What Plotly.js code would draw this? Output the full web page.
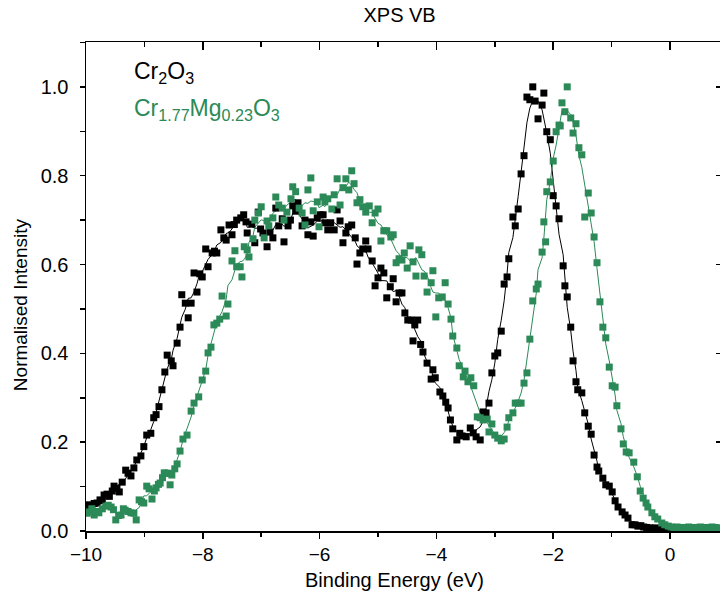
<!DOCTYPE html>
<html>
<head>
<meta charset="utf-8">
<script src="https://cdn.plot.ly/plotly-3.0.1.min.js"></script>
<style>html,body{margin:0;padding:0;background:#fff;}#chart{width:720px;height:601px;}</style>
</head>
<body>
<div id="chart"></div>
<script>
// Cr2O3 (black)
const crX = [-9.98,-9.95,-9.90,-9.86,-9.81,-9.76,-9.72,-9.69,-9.64,-9.60,-9.55,-9.52,-9.47,-9.43,-9.38,-9.32,-9.28,-9.23,-9.18,-9.13,-9.06,-9.01,-8.96,-8.89,-8.84,-8.80,-8.75,-8.70,-8.65,-8.61,-8.54,-8.51,-8.44,-8.39,-8.36,-8.30,-8.25,-8.20,-8.15,-8.10,-8.05,-8.01,-7.95,-7.91,-7.84,-7.80,-7.76,-7.69,-7.64,-7.60,-7.55,-7.50,-7.46,-7.42,-7.35,-7.30,-7.26,-7.24,-7.16,-7.11,-7.05,-7.01,-6.97,-6.90,-6.85,-6.80,-6.75,-6.70,-6.64,-6.61,-6.54,-6.50,-6.46,-6.41,-6.37,-6.30,-6.25,-6.20,-6.15,-6.11,-6.04,-5.99,-5.94,-5.91,-5.86,-5.81,-5.75,-5.70,-5.65,-5.60,-5.55,-5.51,-5.45,-5.39,-5.36,-5.31,-5.26,-5.21,-5.17,-5.10,-5.05,-5.00,-4.95,-4.90,-4.85,-4.79,-4.74,-4.69,-4.64,-4.59,-4.54,-4.49,-4.43,-4.40,-4.37,-4.32,-4.27,-4.23,-4.16,-4.09,-4.06,-4.02,-3.94,-3.89,-3.84,-3.80,-3.76,-3.72,-3.65,-3.60,-3.56,-3.49,-3.42,-3.37,-3.32,-3.25,-3.20,-3.15,-3.10,-3.05,-3.00,-2.95,-2.89,-2.84,-2.79,-2.76,-2.69,-2.65,-2.60,-2.55,-2.50,-2.45,-2.40,-2.35,-2.31,-2.26,-2.19,-2.16,-2.11,-2.05,-2.00,-1.95,-1.90,-1.83,-1.80,-1.76,-1.70,-1.66,-1.61,-1.58,-1.51,-1.46,-1.40,-1.35,-1.30,-1.25,-1.22,-1.15,-1.10,-1.04,-0.99,-0.94,-0.89,-0.82,-0.77,-0.72,-0.65,-0.60,-0.55,-0.50,-0.45,-0.40,-0.35,-0.30,-0.25,-0.20,-0.15,-0.10,-0.05,0.00,0.05,0.10,0.15,0.20,0.25,0.30,0.35,0.40,0.45,0.50,0.55,0.60,0.65,0.70,0.75,0.80,0.85];
const crY = [0.050,0.059,0.055,0.062,0.063,0.070,0.068,0.081,0.083,0.078,0.090,0.101,0.096,0.088,0.110,0.137,0.130,0.124,0.142,0.160,0.169,0.190,0.216,0.220,0.255,0.262,0.280,0.318,0.358,0.396,0.383,0.372,0.423,0.459,0.532,0.513,0.480,0.513,0.581,0.538,0.579,0.572,0.635,0.595,0.626,0.630,0.626,0.678,0.660,0.655,0.689,0.667,0.690,0.700,0.705,0.712,0.696,0.671,0.691,0.649,0.718,0.680,0.671,0.640,0.673,0.660,0.727,0.687,0.703,0.651,0.687,0.700,0.732,0.720,0.739,0.687,0.700,0.667,0.696,0.664,0.705,0.712,0.712,0.694,0.678,0.694,0.678,0.723,0.698,0.649,0.671,0.685,0.689,0.660,0.601,0.626,0.635,0.653,0.635,0.608,0.552,0.570,0.592,0.581,0.525,0.550,0.568,0.516,0.536,0.536,0.491,0.475,0.475,0.428,0.464,0.475,0.420,0.403,0.378,0.342,0.363,0.345,0.313,0.304,0.290,0.277,0.250,0.230,0.205,0.220,0.214,0.212,0.232,0.221,0.212,0.205,0.268,0.266,0.288,0.356,0.394,0.401,0.450,0.556,0.572,0.613,0.707,0.687,0.725,0.804,0.845,0.977,0.971,1.000,0.968,0.928,0.959,0.986,0.899,0.881,0.755,0.732,0.703,0.597,0.552,0.527,0.459,0.383,0.336,0.318,0.311,0.266,0.236,0.218,0.171,0.144,0.135,0.119,0.104,0.101,0.088,0.068,0.054,0.043,0.036,0.029,0.014,0.014,0.011,0.012,0.009,0.008,0.007,0.006,0.007,0.005,0.004,0.006,0.005,0.004,0.005,0.006,0.004,0.005,0.006,0.005,0.004,0.007,0.006,0.005,0.004,0.005,0.007,0.005,0.004,0.005,0.006];

// Cr1.77Mg0.23O3 (green)
const mgX = [-9.98,-9.95,-9.90,-9.86,-9.82,-9.78,-9.72,-9.66,-9.62,-9.57,-9.53,-9.49,-9.44,-9.40,-9.36,-9.33,-9.28,-9.23,-9.18,-9.14,-9.09,-9.05,-9.01,-8.96,-8.92,-8.87,-8.83,-8.80,-8.76,-8.73,-8.69,-8.66,-8.62,-8.59,-8.56,-8.53,-8.48,-8.44,-8.39,-8.34,-8.27,-8.20,-8.15,-8.07,-8.01,-7.95,-7.91,-7.86,-7.81,-7.76,-7.71,-7.67,-7.60,-7.57,-7.50,-7.45,-7.42,-7.36,-7.33,-7.29,-7.24,-7.21,-7.14,-7.11,-7.05,-7.00,-6.95,-6.90,-6.87,-6.80,-6.75,-6.70,-6.64,-6.61,-6.56,-6.49,-6.46,-6.41,-6.35,-6.30,-6.25,-6.20,-6.15,-6.11,-6.04,-6.01,-5.94,-5.91,-5.86,-5.79,-5.75,-5.70,-5.65,-5.60,-5.55,-5.50,-5.45,-5.41,-5.36,-5.31,-5.26,-5.21,-5.15,-5.10,-5.05,-5.00,-4.95,-4.90,-4.85,-4.78,-4.74,-4.69,-4.64,-4.59,-4.55,-4.50,-4.45,-4.40,-4.35,-4.30,-4.25,-4.21,-4.16,-4.09,-4.06,-4.01,-3.96,-3.90,-3.85,-3.80,-3.75,-3.72,-3.65,-3.61,-3.54,-3.51,-3.46,-3.41,-3.36,-3.30,-3.25,-3.20,-3.13,-3.10,-3.05,-3.00,-2.95,-2.89,-2.84,-2.79,-2.76,-2.69,-2.65,-2.60,-2.55,-2.50,-2.45,-2.40,-2.35,-2.29,-2.26,-2.19,-2.16,-2.13,-2.11,-2.05,-2.00,-1.95,-1.90,-1.88,-1.85,-1.80,-1.76,-1.70,-1.66,-1.61,-1.56,-1.51,-1.46,-1.40,-1.35,-1.30,-1.25,-1.20,-1.15,-1.10,-1.04,-0.99,-0.94,-0.91,-0.84,-0.80,-0.75,-0.70,-0.62,-0.56,-0.51,-0.46,-0.41,-0.38,-0.31,-0.26,-0.21,-0.14,-0.09,-0.03,0.02,0.07,0.12,0.17,0.22,0.27,0.32,0.37,0.42,0.47,0.52,0.57,0.62,0.67,0.72,0.77,0.82];
const mgY = [0.040,0.043,0.050,0.036,0.044,0.041,0.050,0.056,0.058,0.054,0.048,0.025,0.035,0.036,0.050,0.047,0.044,0.041,0.040,0.025,0.070,0.066,0.063,0.101,0.095,0.072,0.090,0.097,0.105,0.108,0.120,0.131,0.130,0.130,0.104,0.126,0.140,0.151,0.180,0.207,0.216,0.270,0.288,0.302,0.340,0.360,0.401,0.414,0.464,0.468,0.477,0.529,0.484,0.511,0.608,0.631,0.595,0.595,0.572,0.640,0.633,0.617,0.658,0.700,0.716,0.730,0.660,0.698,0.687,0.705,0.752,0.734,0.727,0.700,0.718,0.748,0.775,0.764,0.727,0.716,0.689,0.768,0.795,0.721,0.741,0.685,0.752,0.741,0.748,0.725,0.757,0.793,0.734,0.773,0.793,0.768,0.811,0.782,0.739,0.746,0.730,0.718,0.732,0.694,0.716,0.725,0.653,0.676,0.676,0.662,0.667,0.604,0.613,0.610,0.626,0.592,0.642,0.606,0.574,0.633,0.622,0.574,0.538,0.559,0.586,0.482,0.525,0.527,0.559,0.511,0.477,0.439,0.412,0.372,0.347,0.360,0.336,0.345,0.327,0.257,0.255,0.250,0.252,0.223,0.241,0.216,0.209,0.203,0.207,0.234,0.255,0.266,0.288,0.288,0.288,0.333,0.356,0.432,0.518,0.545,0.556,0.628,0.696,0.651,0.764,0.786,0.833,0.899,0.914,0.912,0.964,0.944,1.000,0.930,0.896,0.917,0.863,0.847,0.707,0.761,0.716,0.662,0.604,0.516,0.459,0.435,0.369,0.327,0.324,0.282,0.230,0.196,0.178,0.176,0.155,0.122,0.090,0.074,0.063,0.054,0.041,0.032,0.027,0.018,0.014,0.011,0.009,0.008,0.009,0.008,0.007,0.008,0.009,0.008,0.007,0.008,0.009,0.008,0.007,0.008,0.009,0.008,0.007];

const seriesNames = ['Cr<sub>2</sub>O<sub>3</sub>', 'Cr<sub>1.77</sub>Mg<sub>0.23</sub>O<sub>3</sub>'];
const xTitle = 'Binding Energy (eV)';
const yTitle = 'Normalised Intensity';
const BLACK = '#000000';
const GREEN = '#2b8a57';

// light running-average smoothing for the guide lines
function smooth(arr, half) {
  const out = [];
  for (let i = 0; i < arr.length; i++) {
    let s = 0, n = 0;
    for (let k = -half; k <= half; k++) {
      const j = i + k;
      if (j >= 0 && j < arr.length) { s += arr[j]; n++; }
    }
    out.push(s / n);
  }
  return out;
}

const FONT = 'Liberation Sans, Arial, sans-serif';

const traces = [
  {x: crX, y: smooth(crY, 2), mode: 'lines', line: {color: BLACK, width: 1}, hoverinfo: 'skip', showlegend: false},
  {x: mgX, y: smooth(mgY, 2), mode: 'lines', line: {color: GREEN, width: 1}, hoverinfo: 'skip', showlegend: false},
  {x: crX, y: crY, mode: 'markers', name: seriesNames[0], marker: {symbol: 'square', size: 7, color: BLACK}, showlegend: false},
  {x: mgX, y: mgY, mode: 'markers', name: seriesNames[1], marker: {symbol: 'square', size: 7, color: GREEN}, showlegend: false},
  {x: [-10], y: [0], xaxis: 'x2', yaxis: 'y2', mode: 'markers', marker: {opacity: 0}, hoverinfo: 'skip', showlegend: false}
];

const xr = [-10, 0.856];
const yr = [0, 1.101];

const layout = {
  width: 720, height: 601,
  margin: {l: 86, r: 0, t: 42, b: 70},
  paper_bgcolor: '#fff', plot_bgcolor: '#fff',
  font: {family: FONT, color: '#000', size: 19},
  title: {text: 'XPS VB', font: {family: FONT, size: 20, color: '#000'}, x: 0.555, xref: 'container', xanchor: 'center', y: 0.975, yref: 'container', yanchor: 'middle'},
  xaxis: {
    range: xr, showgrid: false, zeroline: false, showline: true, linecolor: '#000', linewidth: 1.5,
    ticks: 'outside', ticklen: 6, tickwidth: 1.5, tickcolor: '#000', dtick: 2, tick0: 0,
    minor: {dtick: 1, tick0: 0, ticks: 'outside', ticklen: 4, tickwidth: 1.5, tickcolor: '#000'},
    tickfont: {family: FONT, size: 19, color: '#000'}
  },
  yaxis: {
    range: yr, showgrid: false, zeroline: false, showline: true, linecolor: '#000', linewidth: 1.5,
    ticks: 'outside', ticklen: 5, tickwidth: 1.5, tickcolor: '#000', dtick: 0.2, tick0: 0, tickformat: '.1f',
    minor: {dtick: 0.1, tick0: 0, ticks: 'outside', ticklen: 5, tickwidth: 1.5, tickcolor: '#000'},
    tickfont: {family: FONT, size: 20, color: '#000'}, ticklabelstandoff: 7
  },
  xaxis2: {
    overlaying: 'x', side: 'top', anchor: 'y2', range: xr, showgrid: false, zeroline: false, showline: true,
    linecolor: '#000', linewidth: 1.5, ticks: 'inside', ticklen: 8, tickwidth: 1.5, tickcolor: '#000',
    dtick: 2, tick0: 0, showticklabels: false,
    minor: {dtick: 1, tick0: 0, ticks: 'inside', ticklen: 5, tickwidth: 1.5, tickcolor: '#000'}
  },
  yaxis2: {
    overlaying: 'y', side: 'right', anchor: 'x2', range: yr, showgrid: false, zeroline: false, showline: true,
    linecolor: '#000', linewidth: 1.5, ticks: 'inside', ticklen: 4, tickwidth: 1.5, tickcolor: '#000',
    dtick: 0.2, tick0: 0, showticklabels: false
  },
  annotations: [
    {text: seriesNames[0], xref: 'paper', yref: 'paper', x: 0.073, y: 0.937, xanchor: 'left', yanchor: 'middle', showarrow: false, font: {family: FONT, size: 23, color: BLACK}},
    {text: seriesNames[1], xref: 'paper', yref: 'paper', x: 0.073, y: 0.861, xanchor: 'left', yanchor: 'middle', showarrow: false, font: {family: FONT, size: 23, color: GREEN}},
    {text: xTitle, xref: 'paper', yref: 'paper', x: 0.487, y: -0.1, xanchor: 'center', yanchor: 'middle', showarrow: false, font: {family: FONT, size: 20, color: '#000'}},
    {text: yTitle, xref: 'paper', yref: 'paper', x: -0.104, y: 0.462, xanchor: 'center', yanchor: 'middle', textangle: -90, showarrow: false, font: {family: FONT, size: 19, color: '#000'}}
  ],
  showlegend: false
};

Plotly.newPlot('chart', traces, layout, {displayModeBar: false, staticPlot: true});
</script>
</body>
</html>
